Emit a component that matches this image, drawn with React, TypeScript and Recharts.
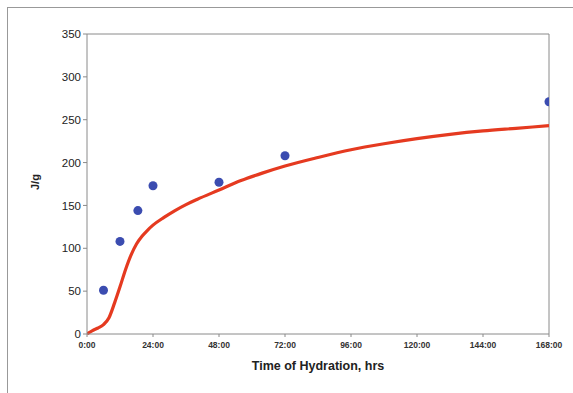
import { ComposedChart, Line, Scatter, XAxis, YAxis, ReferenceLine } from "recharts";

// modelled heat of hydration curve (hours, J/g)
const CURVE_HOURS = [0, 2, 4, 6, 8, 10, 12, 14, 16, 18, 20, 22, 24, 28, 32, 36, 40, 48, 56, 64, 72, 84, 96, 108, 120, 132, 144, 156, 168];
const CURVE_VALUES = [0, 4, 7, 11, 19, 36, 55, 75, 92, 105, 114, 121, 127, 136, 144, 151, 157, 168, 179, 188, 196, 206, 215, 222, 228, 233, 237, 240, 243];

// measured points
const SAMPLE_HOURS = [6, 12, 18.5, 24, 48, 72, 168];
const SAMPLE_VALUES = [51, 108, 144, 173, 177, 208, 271];

const X_TICKS = [0, 24, 48, 72, 96, 120, 144, 168];
const Y_TICKS = [0, 50, 100, 150, 200, 250, 300, 350];

const curveData = CURVE_HOURS.map((h, i) => ({ h, v: CURVE_VALUES[i] }));
const sampleData = SAMPLE_HOURS.map((h, i) => ({ h, v: SAMPLE_VALUES[i] }));

const fmtHours = (h: number) => `${h}:00`;

export default function App() {
  return (
    <div style={{ position: "absolute", left: 0, top: 0, width: 573, height: 393, background: "#fff", fontFamily: "Arial, 'Liberation Sans', sans-serif" }}>
      <div style={{ position: "absolute", left: 7, top: 7, right: 0, bottom: 0, borderLeft: "1px solid #999", borderTop: "1px solid #999" }} />
      <div style={{ position: "absolute", left: 0, top: 0 }}>
        <ComposedChart width={573} height={393} margin={{ top: 34, right: 24, bottom: 0, left: 27 }}>
          <XAxis
            type="number"
            dataKey="h"
            domain={[0, 168]}
            ticks={X_TICKS}
            tickFormatter={fmtHours}
            allowDataOverflow
            height={59}
            stroke="#8a8a8a"
            tickSize={3}
            tick={{ fill: "#333", fontSize: 8.5, fontWeight: "bold", dy: 3 }}
            label={{ value: "Time of Hydration, hrs", position: "insideBottom", offset: 23, fill: "#222", fontSize: 12.5, fontWeight: "bold" }}
          />
          <YAxis
            type="number"
            dataKey="v"
            domain={[0, 350]}
            ticks={Y_TICKS}
            width={60}
            stroke="#8a8a8a"
            tickSize={4}
            tick={{ fill: "#222", fontSize: 11.5 }}
            label={{ value: "J/g", angle: -90, position: "insideLeft", offset: 8, dy: 6, fill: "#222", fontSize: 11, fontWeight: "bold" }}
          />
          <ReferenceLine y={350} stroke="#8a8a8a" />
          <ReferenceLine x={168} stroke="#8a8a8a" />
          <Line
            data={curveData}
            dataKey="v"
            type="monotone"
            stroke="#e53a20"
            strokeWidth={3.2}
            dot={false}
            isAnimationActive={false}
          />
          <Scatter
            data={sampleData}
            dataKey="v"
            fill="#3b4cb0"
            shape={(p: any) => <circle cx={p.cx} cy={p.cy} r={4.5} fill="#3b4cb0" />}
            isAnimationActive={false}
          />
        </ComposedChart>
      </div>
    </div>
  );
}
